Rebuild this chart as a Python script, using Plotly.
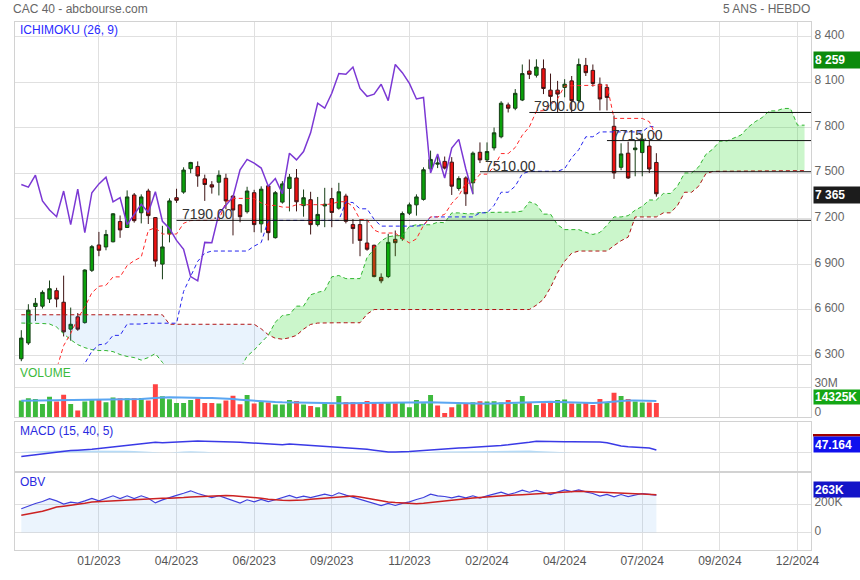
import pandas as pd
import plotly.graph_objects as go

# ---------------- data (weekly, CAC 40) ----------------
first_week = "2022-10-31"
weeks = pd.date_range(first_week, periods=112, freq="7D")

opens = [6279, 6383, 6623, 6625, 6672, 6727, 6651, 6474, 6555, 6517,
         6861, 7028, 7015, 7049, 7182, 7143, 7357, 7240, 7383, 7208,
         6902, 7101, 7339, 7376, 7530, 7545, 7463, 7424, 7441, 7467,
         7350, 7292, 7247, 7372, 7167, 7417, 7076, 7310, 7400, 7469,
         7287, 7326, 7162, 7285, 7333, 7270, 7350, 7162, 7162, 7041,
         7026, 6815, 6820, 7065, 7069, 7237, 7292, 7328, 7530, 7560,
         7578, 7573, 7400, 7469, 7437, 7638, 7588, 7667, 7740, 7950,
         7928, 7982, 8173, 8145, 8188, 8047, 8047, 8065, 8108, 7978,
         8210, 8177, 8086, 8065, 7809, 7539, 7632, 7655, 7636, 7679,
         7571]
highs = [6467, 6638, 6679, 6729, 6794, 6746, 6826, 6616, 6580, 6868,
         7028, 7114, 7127, 7238, 7222, 7387, 7370, 7361, 7398, 7212,
         7154, 7335, 7398, 7539, 7575, 7578, 7491, 7448, 7519, 7497,
         7355, 7296, 7411, 7391, 7414, 7420, 7383, 7448, 7495, 7528,
         7393, 7378, 7344, 7404, 7404, 7437, 7365, 7198, 7198, 7188,
         7030, 6841, 7101, 7123, 7248, 7307, 7361, 7539, 7649, 7625,
         7610, 7606, 7480, 7480, 7643, 7703, 7703, 7801, 7974, 7965,
         8054, 8216, 8249, 8250, 8249, 8156, 8108, 8119, 8140, 8255,
         8259, 8216, 8130, 8086, 7880, 7697, 7708, 7718, 7762, 7718,
         7632]
lows = [6263, 6370, 6528, 6610, 6646, 6618, 6426, 6398, 6463, 6510,
        6850, 6954, 6993, 7045, 7075, 7140, 7175, 7170, 7166, 6885,
        6802, 7045, 7305, 7365, 7500, 7411, 7318, 7366, 7354, 7263,
        7091, 7177, 7235, 7112, 7109, 7058, 7070, 7300, 7249, 7249,
        7214, 7097, 7150, 7145, 7145, 7260, 7170, 7036, 6954, 6990,
        6815, 6776, 6810, 6954, 7055, 7225, 7221, 7320, 7520, 7534,
        7525, 7357, 7385, 7285, 7361, 7567, 7574, 7650, 7730, 7900,
        7915, 7975, 8120, 8130, 8021, 7945, 7903, 8000, 7903, 7965,
        8140, 8070, 7913, 7913, 7463, 7520, 7463, 7480, 7480, 7502,
        7346]
closes = [6415, 6599, 6644, 6716, 6740, 6672, 6456, 6506, 6474, 6863,
          7017, 6993, 7097, 7233, 7127, 7344, 7188, 7344, 7221, 6922,
          7015, 7318, 7322, 7521, 7571, 7482, 7426, 7409, 7487, 7318,
          7258, 7214, 7383, 7162, 7395, 7109, 7372, 7430, 7474, 7312,
          7339, 7162, 7229, 7296, 7242, 7378, 7184, 7136, 7058, 7000,
          6820, 6792, 7045, 7043, 7235, 7292, 7344, 7523, 7591, 7567,
          7534, 7415, 7465, 7365, 7632, 7588, 7643, 7766, 7961, 7928,
          8026, 8156, 8151, 8199, 8058, 8006, 8021, 8086, 7978, 8216,
          8162, 8091, 7989, 7999, 7502, 7627, 7469, 7666, 7723, 7528,
          7365]

# Ichimoku (26, 9)
tenkan = [6047.5, 6133, 6153.5, 6178.5, 6211, 6211, 6365.5, 6445.5, 6544.5, 6619,
          6713, 6756, 6762.5, 6818, 6818, 6892.5, 6925, 6948.5, 7124, 7141.5,
          7100, 7100, 7100, 7170.5, 7188.5, 7190, 7190, 7190, 7190, 7311.5,
          7334.5, 7334.5, 7334.5, 7334.5, 7305, 7288.5, 7288.5, 7277.5, 7276.5, 7293,
          7293, 7293, 7293, 7293, 7299, 7312.5, 7312.5, 7282, 7195.5, 7195.5,
          7126, 7106.5, 7106.5, 7106.5, 7070.5, 7041.5, 7068.5, 7157.5, 7212.5, 7212.5,
          7229.5, 7301.5, 7352, 7435, 7435, 7494, 7494, 7543, 7629.5, 7629.5,
          7669.5, 7750.5, 7805, 7908.5, 7912, 7950, 7990, 8075, 8076.5, 8079,
          8081, 8081, 8081, 8081, 7861, 7861, 7861, 7861, 7861, 7839.5,
          7738]
kijun = [6114, 6133, 6153.5, 6178.5, 6211, 6211, 6227, 6227, 6227, 6248,
         6328, 6371, 6377.5, 6433, 6433, 6507.5, 6507.5, 6507.5, 6513, 6513,
         6513, 6513, 6513, 6722, 6820, 6920.5, 6974, 6988, 6988, 6988,
         6988, 6988, 6988, 7020.5, 7044, 7190, 7190, 7190, 7190, 7190,
         7190, 7190, 7190, 7190, 7190, 7190, 7311.5, 7307, 7266, 7266,
         7196.5, 7152, 7152, 7152, 7152, 7152, 7152, 7157.5, 7212.5, 7212.5,
         7212.5, 7212.5, 7212.5, 7212.5, 7212.5, 7239.5, 7239.5, 7288.5, 7375, 7375,
         7415, 7496, 7512.5, 7513, 7513, 7513, 7513, 7530, 7602, 7655,
         7740, 7740, 7772, 7772, 7772, 7772, 7772, 7772, 7772, 7810,
         7802.5]
span_a = [6514, 6514, 6514, 6511, 6508, 6488, 6443, 6404, 6372, 6352,
          6339, 6333, 6333, 6326, 6307, 6294, 6287, 6270, 6287, 6313,
          6255, 6200, 6180, 6150, 6120, 6100,
          6081, 6133, 6153.5, 6178.5, 6211, 6211, 6296, 6336, 6386, 6433.5,
          6520.5, 6563.5, 6570, 6625.5, 6625.5, 6700, 6716, 6728, 6818.5, 6827,
          6806.5, 6806.5, 6806.5, 6946, 7004, 7055, 7082, 7089, 7089, 7150,
          7161, 7161, 7161, 7177.5, 7174.5, 7239, 7239, 7234, 7233, 7241.5,
          7241.5, 7241.5, 7241.5, 7241.5, 7244.5, 7251, 7312, 7294.5, 7231, 7231,
          7161, 7129, 7129, 7129, 7111, 7097, 7110, 7157.5, 7212.5, 7212.5,
          7221, 7257, 7282, 7324, 7324, 7367, 7367, 7416, 7502, 7502,
          7542, 7623, 7659, 7711, 7712.5, 7731.5, 7751.5, 7802.5, 7839, 7867,
          7910.5, 7910.5, 7926.5, 7926.5, 7816.5, 7816.5]
span_b = [6568.5, 6568.5, 6568.5, 6568.5, 6568.5, 6568.5, 6568.5, 6568.5, 6568.5, 6568.5,
          6568.5, 6568.5, 6568.5, 6568.5, 6568.5, 6568.5, 6568.5, 6568.5, 6568.5, 6568.5,
          6568.5,
          6506, 6506, 6506, 6506, 6506, 6506, 6506, 6506, 6506, 6506, 6506, 6506, 6506,
          6476, 6437, 6414, 6408, 6417, 6433, 6474, 6505, 6514,
          6516, 6516, 6516, 6516, 6516, 6516,
          6573,
          6603, 6603, 6603, 6603, 6603, 6603, 6603, 6603, 6603, 6603,
          6603, 6603, 6603, 6603, 6603, 6603, 6603, 6603, 6603, 6603,
          6603, 6603, 6603,
          6632, 6670, 6748, 6846,
          6920.5, 6974, 6988, 6988, 6988, 6988, 6988, 7023.5, 7056, 7079.5,
          7212.5, 7212.5, 7212.5, 7212.5, 7239.5, 7239.5, 7288.5, 7375, 7375, 7415,
          7496, 7512.5, 7513, 7513, 7513, 7513, 7513, 7513, 7515.5, 7517.5,
          7517.5, 7517.5, 7517.5, 7517.5, 7517.5]
chikou_shift = 26

# support / resistance levels and the week they start from
levels = [7190, 7510, 7900, 7715]
level_start_week = [22, 65, 72, 83]

# volume (millions) and its average
volumes = [16.7, 19.0, 18.3, 13.3, 20.7, 15.7, 22.7, 13.3, 6.7, 15.7,
           18.3, 17.3, 15.0, 19.7, 19.0, 19.0, 19.0, 19.3, 16.7, 33.3,
           21.0, 18.0, 14.3, 14.3, 17.3, 19.0, 14.3, 14.3, 13.7, 16.7,
           21.7, 13.0, 22.3, 13.7, 15.7, 14.7, 12.7, 12.7, 17.3, 16.3,
           12.7, 11.3, 10.0, 15.0, 12.7, 21.3, 15.3, 15.3, 14.0, 16.3,
           15.3, 14.0, 15.0, 14.0, 15.3, 10.0, 17.3, 14.0, 22.3, 11.7,
           4.0, 10.0, 13.0, 13.3, 15.0, 16.0, 15.7, 16.0, 14.7, 17.3,
           13.7, 21.3, 15.3, 12.3, 14.0, 15.3, 17.3, 17.7, 13.7, 13.7,
           14.7, 12.3, 18.3, 15.3, 24.7, 21.3, 18.3, 15.7, 14.7, 14.7,
           14.325]
volume_avg = [16.5, 16.6, 16.7, 16.7, 16.8, 16.8, 16.9, 16.9, 17.0, 17.0,
              17.2, 17.3, 17.4, 17.5, 17.6, 17.8, 18.0, 18.3, 18.8, 19.5,
              19.8, 20.0, 20.0, 20.0, 19.8, 19.6, 19.4, 19.2, 19.0, 18.6,
              18.2, 17.6, 17.0, 16.5, 16.0, 15.6, 15.2, 14.9, 14.7, 14.5,
              14.3, 14.1, 14.0, 14.0, 14.0, 14.0, 14.0, 14.1, 14.3, 14.5,
              14.7, 14.8, 15.0, 15.1, 15.2, 15.3, 15.3, 15.2, 15.0, 14.8,
              14.5, 14.2, 14.0, 13.6, 13.4, 13.3, 13.4, 13.7, 14.0, 14.3,
              14.6, 14.9, 15.2, 15.3, 15.4, 15.4, 15.3, 15.0, 14.7, 14.4,
              14.2, 14.2, 14.6, 15.2, 16.0, 16.6, 16.8, 16.8, 16.7, 16.5,
              16.2]

# MACD (15, 40, 5)
macd = [-72, -55, -38, -22, -8, 8, 27, 38, 45, 50,
        60, 75, 90, 106, 121, 137, 152, 168, 180, 188,
        181, 186, 192, 208, 214, 212, 210, 208, 210, 204,
        196, 190, 183, 175, 168, 158, 150, 145, 156, 148,
        140, 132, 124, 116, 108, 102, 96, 84, 72, 60,
        42, 24, 11, 10, 11, 18, 27, 38, 50, 60,
        72, 78, 84, 90, 96, 105, 114, 123, 132, 144,
        156, 168, 190, 210, 205, 199, 199, 199, 199, 199,
        199, 199, 195, 181, 150, 119, 105, 98, 90, 83,
        47.164]
macd_hist = [10, 18, 25, 30, 34, 36, 37, 38, 38, 38,
             38, 37, 36, 35, 34, 32, 28, 20, 10, 0,
             0, 0, 14, 22, 26, 24, 16, 6, 0, 0,
             0, 0, 0, 0, 0, 0, 0, 0, 0, 0,
             0, 0, 0, 0, 0, 0, 0, 0, 0, 0,
             0, 0, 0, 0, 0, 0, 0, 6, 12, 18,
             22, 26, 28, 28, 26, 24, 26, 28, 30, 34,
             40, 44, 38, 30, 22, 12, 4, 0, 0, 0,
             0, 0, 0, 0, 0, 0, 0, 0, 0, 0,
             0]

# OBV (thousands) and its average
obv = [167, 186, 204, 218, 238, 222, 200, 213, 206, 222,
       240, 223, 238, 258, 239, 258, 239, 258, 241, 208,
       229, 247, 261, 276, 293, 274, 260, 245, 259, 242,
       220, 207, 230, 216, 232, 217, 230, 243, 260, 244,
       256, 245, 255, 270, 257, 279, 263, 248, 234, 218,
       203, 189, 204, 190, 205, 215, 232, 246, 269, 257,
       253, 243, 256, 243, 258, 242, 257, 270, 283, 266,
       279, 298, 283, 296, 282, 267, 284, 300, 287, 300,
       286, 274, 256, 268, 250, 267, 252, 262, 274, 268,
       263]
obv_avg = [121, 130, 140, 149, 164, 179, 185, 190, 195, 205,
           214, 217, 220, 223, 225, 228, 231, 234, 237, 238,
           240, 241, 242, 246, 250, 253, 256, 258, 259, 260,
           258, 255, 252, 249, 241, 233, 228, 226, 225, 225,
           229, 233, 237, 241, 245, 249, 253, 256, 249, 240,
           230, 222, 214, 210, 207, 204, 202, 206, 212, 218,
           223, 228, 232, 237, 242, 246, 251, 256, 260, 262,
           264, 266, 269, 273, 276, 280, 285, 289, 291, 290,
           288, 285, 282, 279, 277, 276, 274, 272, 270, 268,
           265]

tick_dates = ["2023-01-16", "2023-04-03", "2023-06-19", "2023-09-04", "2023-11-20",
              "2024-02-05", "2024-04-22", "2024-07-08", "2024-09-23", "2024-12-09"]
tick_labels = ["01/2023", "04/2023", "06/2023", "09/2023", "11/2023",
               "02/2024", "04/2024", "07/2024", "09/2024", "12/2024"]
price_ticks = [6300, 6600, 6900, 7200, 7500, 7800, 8100, 8400]

# ---------------- figure ----------------
N = len(closes)
cw = weeks[:N]
cloud_x = weeks[:len(span_a)]
FONT = "Liberation Sans, Arial, sans-serif"
NARROW = "Liberation Sans Narrow, Arial Narrow, Liberation Sans, sans-serif"
DASH = "4px,3px"

fig = go.Figure()

fig.add_trace(go.Candlestick(
    x=cw, open=opens, high=highs, low=lows, close=closes,
    increasing=dict(line=dict(color="#163e16", width=1), fillcolor="#0aa10a"),
    decreasing=dict(line=dict(color="#3e1414", width=1), fillcolor="#ee1111"),
    whiskerwidth=0, xaxis="x", yaxis="y", hoverinfo="skip"))

# cloud fills: blue where span B is above span A, green where span A is above span B
cross = next(i for i in range(len(span_a)) if span_a[i] > span_b[i]) - 1
fig.add_trace(go.Scatter(x=cloud_x[:cross + 1], y=span_b[:cross + 1], mode="lines",
                         line=dict(width=0), hoverinfo="skip", xaxis="x", yaxis="y"))
fig.add_trace(go.Scatter(x=cloud_x[:cross + 1], y=span_a[:cross + 1], mode="lines",
                         line=dict(width=0), fill="tonexty",
                         fillcolor="rgba(40,140,235,0.10)", hoverinfo="skip",
                         xaxis="x", yaxis="y"))
fig.add_trace(go.Scatter(x=cloud_x[cross:], y=span_b[cross:], mode="lines",
                         line=dict(width=0), hoverinfo="skip", xaxis="x", yaxis="y"))
fig.add_trace(go.Scatter(x=cloud_x[cross:], y=span_a[cross:], mode="lines",
                         line=dict(width=0), fill="tonexty",
                         fillcolor="rgba(20,215,20,0.22)", hoverinfo="skip",
                         xaxis="x", yaxis="y"))

fig.add_trace(go.Scatter(x=cloud_x, y=span_b, mode="lines",
                         line=dict(color="#b01414", width=1, dash=DASH),
                         hoverinfo="skip", xaxis="x", yaxis="y"))
fig.add_trace(go.Scatter(x=cloud_x, y=span_a, mode="lines",
                         line=dict(color="#2fb52f", width=1, dash=DASH),
                         hoverinfo="skip", xaxis="x", yaxis="y"))
fig.add_trace(go.Scatter(x=cw, y=kijun, mode="lines",
                         line=dict(color="#2424ee", width=1, dash=DASH),
                         hoverinfo="skip", xaxis="x", yaxis="y"))
fig.add_trace(go.Scatter(x=cw, y=tenkan, mode="lines",
                         line=dict(color="#ff2626", width=1, dash=DASH),
                         hoverinfo="skip", xaxis="x", yaxis="y"))
fig.add_trace(go.Scatter(x=cw[:N - chikou_shift], y=closes[chikou_shift:], mode="lines",
                         line=dict(color="#7b38d4", width=1.5),
                         hoverinfo="skip", xaxis="x", yaxis="y"))

# volume
vol_colors = []
for i in range(N):
    up = closes[i] >= (closes[i - 1] if i > 0 else opens[0])
    vol_colors.append("#3dba3d" if up else "#ff4343")
fig.add_trace(go.Bar(x=cw, y=volumes, marker=dict(color=vol_colors, line=dict(width=0)),
                     hoverinfo="skip", xaxis="x2", yaxis="y2"))
fig.add_trace(go.Scatter(x=cw, y=volume_avg, mode="lines",
                         line=dict(color="#5aa6f2", width=2),
                         hoverinfo="skip", xaxis="x2", yaxis="y2"))

# MACD
fig.add_trace(go.Scatter(x=cw, y=macd_hist, mode="lines", line=dict(width=0),
                         fill="tozeroy", fillcolor="#b6dbf7",
                         hoverinfo="skip", xaxis="x3", yaxis="y3"))
fig.add_trace(go.Scatter(x=cw, y=macd, mode="lines",
                         line=dict(color="#3a3ae6", width=1.5),
                         hoverinfo="skip", xaxis="x3", yaxis="y3"))

# OBV
fig.add_trace(go.Scatter(x=cw, y=obv, mode="lines",
                         line=dict(color="#4040dc", width=1.2),
                         fill="tozeroy", fillcolor="rgba(120,180,240,0.15)",
                         hoverinfo="skip", xaxis="x4", yaxis="y4"))
fig.add_trace(go.Scatter(x=cw, y=obv_avg, mode="lines",
                         line=dict(color="#cc2222", width=1.5),
                         hoverinfo="skip", xaxis="x4", yaxis="y4"))

# ---------------- layout ----------------
x_lo = weeks[0] - pd.Timedelta(days=6.25)
x_hi = weeks[0] + pd.Timedelta(days=783.4)

grid = dict(showgrid=True, gridcolor="#e0e0e0", gridwidth=1, showline=True,
            linecolor="#d2d2d2", linewidth=1, mirror=True, zeroline=False, ticks="")
xbase = dict(grid, type="date", range=[x_lo, x_hi], tickvals=tick_dates,
             ticktext=tick_labels, tickfont=dict(size=12, color="#555"))

shapes = []
annotations = []
for lv, sw in zip(levels, level_start_week):
    shapes.append(dict(type="line", xref="x", yref="y", x0=weeks[sw], x1=x_hi,
                       y0=lv, y1=lv, line=dict(color="#111", width=1)))
    annotations.append(dict(xref="x", yref="y", x=weeks[sw], y=lv, text=f"{lv:.2f}",
                            showarrow=False, xanchor="left", yanchor="middle",
                            xshift=3, yshift=6,
                            font=dict(family=NARROW, size=14, color="#333")))

# panel titles and header
for txt, ypx, col in [("ICHIMOKU (26, 9)", 0.9856, "#2a2aff"),
                      ("VOLUME", 0.3351, "#3cba3c"),
                      ("MACD (15, 40, 5)", 0.2262, "#2a2ae0"),
                      ("OBV", 0.1295, "#2a2ae0")]:
    annotations.append(dict(xref="paper", yref="paper", x=0.004, y=ypx, text=txt,
                            showarrow=False, xanchor="left", yanchor="middle",
                            font=dict(size=12, color=col)))
annotations.append(dict(xref="paper", yref="paper", x=-0.005, y=1.0243,
                        text="CAC 40 - abcbourse.com", showarrow=False,
                        xanchor="left", yanchor="middle",
                        font=dict(size=12, color="#666")))
annotations.append(dict(xref="paper", yref="paper", x=1.0013, y=1.0243,
                        text="5 ANS - HEBDO", showarrow=False,
                        xanchor="right", yanchor="middle",
                        font=dict(size=12, color="#666")))

# value boxes on the right
def fmt_price(v):
    return f"{v:,.0f}".replace(",", " ")

value_boxes = [("y", max(highs), fmt_price(max(highs)), "#0c8a0c", -2, 14),
               ("y", closes[-1], fmt_price(closes[-1]), "#1c1c1c", -1, 14),
               ("y2", volumes[-1], f"{volumes[-1] * 1000:.0f}K", "#14a614", 6, 12),
               ("y3", macd[-1], f"{macd[-1]:.3f}", "#1010ee", 6, 13),
               ("y4", obv[-1], f"{obv[-1]:.0f}K", "#1414c8", 6, 13)]
shapes.append(dict(type="rect", xref="paper", yref="paper", x0=1.0025, x1=1.0616,
                   y0=0.2150, y1=0.2196, fillcolor="#a00000", line=dict(width=0)))
for yref, val, txt, bg, ysh, hgt in value_boxes:
    annotations.append(dict(xref="paper", yref=yref, x=1, y=val, text=f"<b>{txt}</b>",
                            showarrow=False, xanchor="left", yanchor="middle",
                            xshift=2, yshift=ysh, width=44, height=hgt, align="left",
                            bgcolor=bg, borderpad=1,
                            font=dict(size=12, color="white")))

fig.update_layout(
    width=860, height=580, autosize=False,
    margin=dict(l=15, r=49, t=22, b=23),
    paper_bgcolor="white", plot_bgcolor="white",
    font=dict(family=FONT, size=12, color="#666"),
    showlegend=False, hovermode=False, bargap=0.3,
    xaxis=dict(xbase, anchor="y", showticklabels=False, rangeslider=dict(visible=False)),
    xaxis2=dict(xbase, anchor="y2", matches="x", showticklabels=False),
    xaxis3=dict(xbase, anchor="y3", matches="x", showticklabels=False),
    xaxis4=dict(xbase, anchor="y4", matches="x", showticklabels=True),
    yaxis=dict(grid, domain=[0.3527, 1.0], range=[6246, 8495.5], side="right",
               tickvals=price_ticks, ticktext=[fmt_price(v) for v in price_ticks],
               tickfont=dict(size=12, color="#666"), ticklabelshift=-2, anchor="x"),
    yaxis2=dict(grid, domain=[0.2518, 0.3495], range=[0, 52.3], side="right",
                tickvals=[0, 30], ticktext=["0", "30M"], ticklabelshift=-5,
                tickfont=dict(size=12, color="#666"), anchor="x2"),
    yaxis3=dict(grid, domain=[0.1501, 0.2417], range=[-333, 554], side="right",
                tickvals=[0], showticklabels=False, anchor="x3"),
    yaxis4=dict(grid, domain=[0.0, 0.1458], range=[-123, 418], side="right",
                tickvals=[0, 200], ticktext=["0", "200K"], ticklabelshift=-2,
                tickfont=dict(size=12, color="#666"), anchor="x4"),
    shapes=shapes, annotations=annotations,
)

fig.write_html("out.html",
               config={"displayModeBar": False, "responsive": False},
               post_script="document.body.style.margin='0px';"
                           "document.body.style.padding='0px';"
                           "document.body.style.overflow='hidden';")
